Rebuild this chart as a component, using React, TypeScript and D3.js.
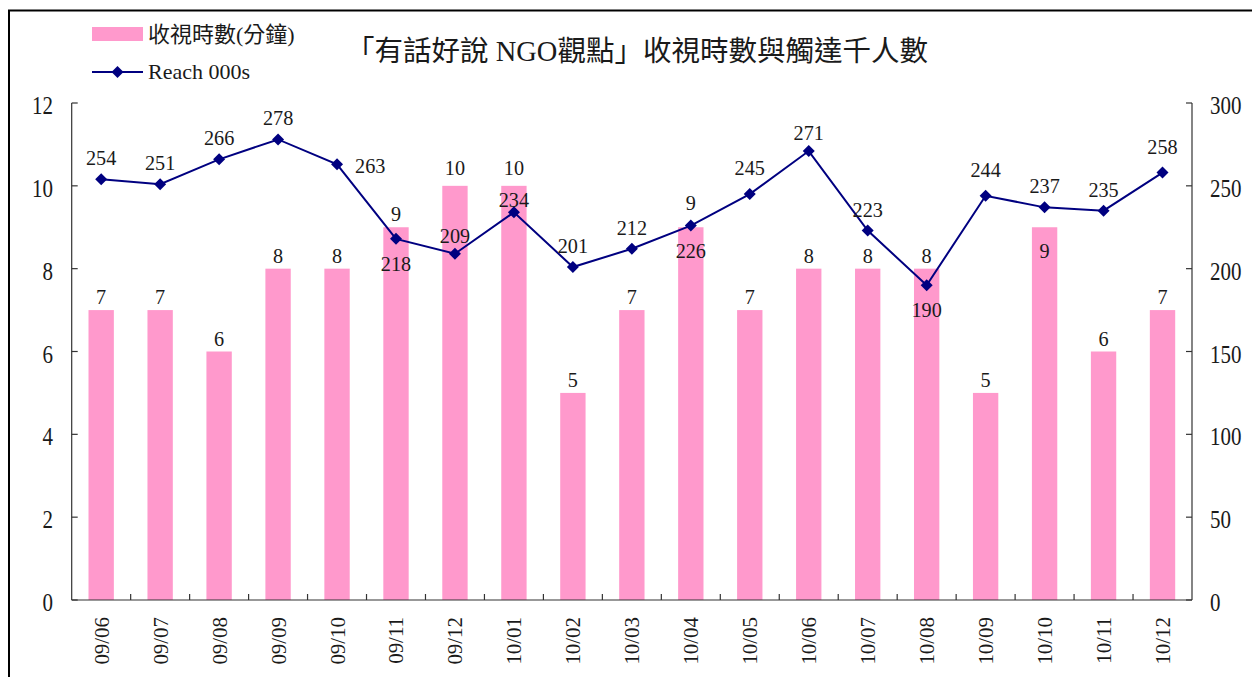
import React from 'react';
import * as d3 from 'd3';

const categories = ['09/06','09/07','09/08','09/09','09/10','09/11','09/12','10/01','10/02','10/03','10/04','10/05','10/06','10/07','10/08','10/09','10/10','10/11','10/12'];
const viewingMinutes = [7,7,6,8,8,9,10,10,5,7,9,7,8,8,8,5,9,6,7];
const reach000s = [254,251,266,278,263,218,209,234,201,212,226,245,271,223,190,244,237,235,258];
const leftTicks = [0,2,4,6,8,10,12];
const rightTicks = [0,50,100,150,200,250,300];
const lineLabelPlacement = ['above','above','above','above','right','below','aboveNear','aboveClose','above','above','below','aboveFar','aboveNear','above','below','aboveFar','above','above','aboveFar'];
const barLabelPlacement = ['above','above','above','above','above','above','high','high','above','above','higher','above','above','above','above','above','inside','above','above'];

const TITLE = '「有話好說 NGO觀點」收視時數與觸達千人數';
const BAR_NAME = '收視時數(分鐘)';
const LINE_NAME = 'Reach 000s';

const W = 1252, H = 677;
const L = 71.7, R = 1192, T = 103, B = 600;
const PINK = '#FF99CC';
const NAVY = '#000080';
const SERIF = '"Liberation Serif", "Times New Roman", serif';
const CJK = '"Liberation Serif", "Noto Sans CJK TC", serif';

function Num({ x, y, text, size, sx, anchor, rotate }: any) {
  const tr = `translate(${x},${y})` + (rotate ? ` rotate(${rotate})` : '') + ` scale(${sx},1)`;
  return (
    <text transform={tr} textAnchor={anchor || 'middle'} fontFamily={SERIF} fontSize={size} fill="#1a1a1a">{text}</text>
  );
}

function diamond(cx: number, cy: number, r: number) {
  return `M${cx},${cy - r}L${cx + r},${cy}L${cx},${cy + r}L${cx - r},${cy}Z`;
}

export default function App() {
  const x = d3.scaleBand<string>().domain(categories).range([L, R]).paddingInner(0).paddingOuter(0);
  const yL = d3.scaleLinear().domain([0, 12]).range([B, T]);
  const yR = d3.scaleLinear().domain([0, 300]).range([B, T]);
  const bw = x.bandwidth();
  const barW = bw * 0.43;
  const cx = (c: string) => (x(c) as number) + bw / 2;

  const line = d3.line<number>().x((_, i) => cx(categories[i])).y(d => yR(d));

  return (
    <svg width={W} height={H} style={{ position: 'absolute', left: 0, top: 0, background: '#fff' }}>
      <rect x={0} y={0} width={W} height={H} fill="#fff" />
      {/* frame */}
      <path d={`M9,${H + 2}V10.5H${W + 2}`} fill="none" stroke="#000" strokeWidth={2} />

      {/* title */}
      <text x={637} y={61} textAnchor="middle" fontFamily={CJK} fontSize={28.5} fill="#1a1a1a">{TITLE}</text>

      {/* legend */}
      <rect x={92} y={27} width={51} height={14} fill={PINK} />
      <text x={148} y={42} fontFamily={CJK} fontSize={22} fill="#1a1a1a">{BAR_NAME}</text>
      <line x1={92} x2={143} y1={72} y2={72} stroke={NAVY} strokeWidth={2} />
      <path d={diamond(117.5, 72, 6)} fill={NAVY} />
      <text x={148} y={79} fontFamily={SERIF} fontSize={22} fill="#1a1a1a">{LINE_NAME}</text>

      {/* bars */}
      {viewingMinutes.map((v, i) => (
        <rect key={'b' + i} x={cx(categories[i]) - barW / 2} y={yL(v)} width={barW} height={B - yL(v)} fill={PINK} />
      ))}

      {/* axes */}
      <g stroke="#333" strokeWidth={1.2} fill="none">
        <line x1={L} x2={L} y1={T} y2={B} />
        <line x1={R} x2={R} y1={T} y2={B} />
        <line x1={L} x2={R} y1={B} y2={B} />
        {leftTicks.map(t => <line key={'lt' + t} x1={L} x2={L + 6} y1={yL(t)} y2={yL(t)} />)}
        {rightTicks.map(t => <line key={'rt' + t} x1={R - 6} x2={R} y1={yR(t)} y2={yR(t)} />)}
        {categories.slice(1).map(c => <line key={'xt' + c} x1={x(c)} x2={x(c)} y1={B - 6} y2={B} />)}
      </g>
      {leftTicks.map(t => <Num key={'ll' + t} x={53} y={yL(t) + 11} text={String(t)} size={25} sx={0.84} anchor="end" />)}
      {rightTicks.map(t => <Num key={'rl' + t} x={1210} y={yR(t) + 11} text={String(t)} size={25} sx={0.84} anchor="start" />)}
      {categories.map(c => <Num key={'xl' + c} x={cx(c) + 7.5} y={617} text={c} size={22} sx={0.95} anchor="end" rotate={-90} />)}

      {/* bar labels */}
      {viewingMinutes.map((v, i) => {
        const p = barLabelPlacement[i];
        const top = yL(v);
        const y = p === 'inside' ? top + 31 : top - (p === 'high' ? 11 : p === 'higher' ? 17 : 6);
        return <Num key={'bl' + i} x={cx(categories[i])} y={y} text={String(v)} size={22} sx={0.92} />;
      })}

      {/* line */}
      <path d={line(reach000s) || ''} fill="none" stroke={NAVY} strokeWidth={2} />
      {reach000s.map((v, i) => <path key={'m' + i} d={diamond(cx(categories[i]), yR(v), 6)} fill={NAVY} />)}
      {reach000s.map((v, i) => {
        const px = cx(categories[i]);
        const py = yR(v);
        const p = lineLabelPlacement[i];
        if (p === 'right') return <Num key={'nl' + i} x={px + 18} y={py + 9} text={String(v)} size={22} sx={0.92} anchor="start" />;
        if (p === 'below') return <Num key={'nl' + i} x={px} y={py + 32} text={String(v)} size={22} sx={0.92} />;
        const off = p === 'aboveClose' ? 5 : p === 'aboveNear' ? 11 : p === 'aboveFar' ? 19 : 14;
        return <Num key={'nl' + i} x={px} y={py - off} text={String(v)} size={22} sx={0.92} />;
      })}
    </svg>
  );
}
